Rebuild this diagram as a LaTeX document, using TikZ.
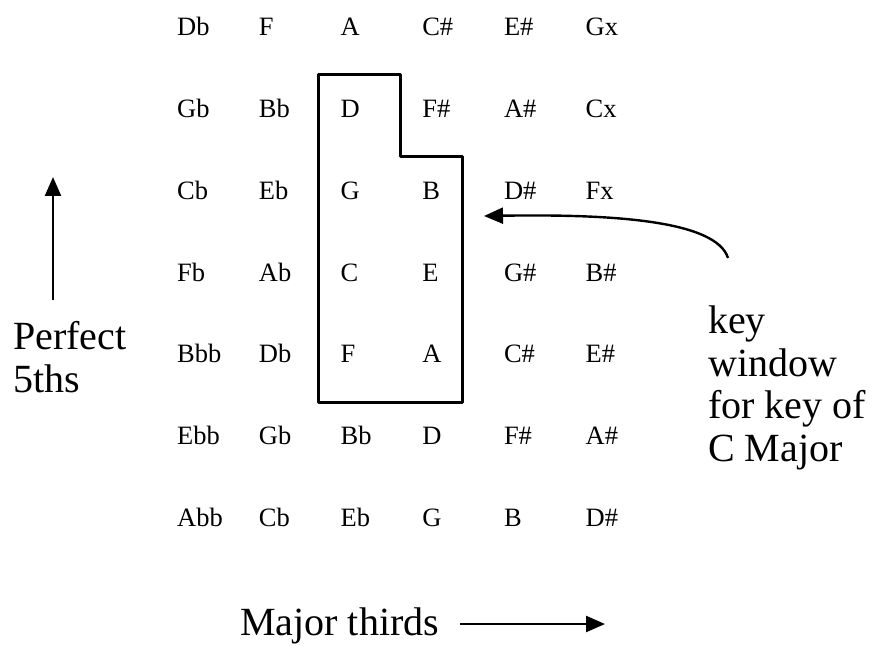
\documentclass[tikz,border=0pt]{standalone}
\usepackage{fontspec}
\setmainfont{Liberation Serif}
\usetikzlibrary{arrows.meta}
\tikzset{
  note/.style={anchor=base west, inner sep=0pt, font=\fontsize{26.5bp}{30bp}\selectfont},
  caption/.style={anchor=base west, inner sep=0pt, align=left, font=\fontsize{40bp}{42.5bp}\selectfont},
}
\begin{document}
\begin{tikzpicture}[x=1bp, y=-1bp, >={Triangle[length=19bp, width=16bp]}]
  \useasboundingbox (0,0) rectangle (874,646);

  % Grade de notas
  \foreach \row [count=\r from 0] in {%
      {Db,F,A,C\#,E\#,Gx},
      {Gb,Bb,D,F\#,A\#,Cx},
      {Cb,Eb,G,B,D\#,Fx},
      {Fb,Ab,C,E,G\#,B\#},
      {Bbb,Db,F,A,C\#,E\#},
      {Ebb,Gb,Bb,D,F\#,A\#},
      {Abb,Cb,Eb,G,B,D\#}}
    \foreach \nota [count=\c from 0] in \row
      \node[note] (n-\r-\c) at ({177+81.7*\c}, {36+81.7*\r}) {\nota};

  % Janela da tonalidade
  \coordinate (W1) at (318,75);
  \coordinate (W2) at (400,75);
  \coordinate (W3) at (400,157);
  \coordinate (W4) at (462,157);
  \coordinate (W5) at (462,402);
  \coordinate (W6) at (318,402);
  \draw[line width=3bp, line join=round] (W1) -- (W2) -- (W3) -- (W4) -- (W5) -- (W6) -- cycle;

  % Quintas justas
  \coordinate (P0) at (53,300);
  \coordinate (P1) at (53,177);
  \draw[line width=2.4bp, ->] (P0) -- (P1);
  \node[caption] (quintas) at (13,392) {Perfect\\5ths};

  % Terças maiores
  \node[caption] (tercas) at (240,635) {Major thirds};
  \coordinate (T0) at (460,624);
  \coordinate (T1) at (605,624);
  \draw[line width=2.4bp, ->] (T0) -- (T1);

  % Legenda da janela
  \node[caption] (janela) at (708,461) {key\\window\\for key of\\C Major};
  \coordinate (K0) at (728,258);
  \coordinate (K1) at (484,216);
  \draw[line width=2.4bp, ->] (K0) .. controls (716,220) and (610,214) .. (K1);
\end{tikzpicture}
\end{document}
